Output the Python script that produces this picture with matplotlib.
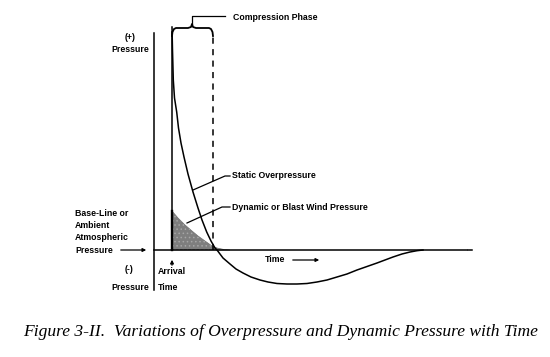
import numpy as np
import matplotlib
matplotlib.use('Agg')
import matplotlib.pyplot as plt

# schematic units: t = time after arrival, p = pressure above ambient
static_t = [0, 0.5, 1.3, 2.5, 4.7, 6.5, 9, 12, 16, 21, 26, 30, 34.7, 39, 43, 45,
            51, 58, 64, 71, 79, 88, 96, 105, 115, 125, 135, 145, 155, 165, 175,
            185, 195, 205, 213, 221, 230, 238, 245, 251]
static_p = [223, 200, 170, 152, 138, 122, 107, 93, 76, 58, 42, 30, 18, 9, 2, 0,
            -8, -14, -19, -23, -27, -30, -32, -33.5, -34, -34, -33.5, -32, -30, -27,
            -24, -20, -16.5, -13, -10, -7, -4, -2, -0.7, 0]

dyn_t = [0, 0, 6, 13, 20, 26, 33, 40, 45, 51, 58]
dyn_p = [0, 39, 32, 25, 19, 14, 9, 4, 2, 0.7, 0]

pos_phase_end = 41   # end of compression phase (dashed line)

plt.rcParams['font.family'] = ['Liberation Sans', 'DejaVu Sans']
plt.rcParams['hatch.linewidth'] = 0.6
fig = plt.figure(figsize=(5.5, 3.57), dpi=100)
ax = fig.add_axes([0, 0, 1, 1])
ax.set_xlim(-172, 378)
ax.set_ylim(-107, 250)
ax.axis('off')

lw = 1.1
fs = 6.3
# axes of the sketch
ax.plot([-18, -18], [-40, 217], color='black', lw=lw)
ax.plot([-18, 295], [0, 0], color='black', lw=lw)
ax.plot([296, 300], [0, 0], color='black', lw=lw)
ax.plot([0, 0], [0, 218], color='black', lw=lw)
ax.plot([pos_phase_end, pos_phase_end], [0, 216], color='black', lw=lw,
        dashes=(4, 3.5))

# dynamic pressure (shaded)
ax.fill(dyn_t, dyn_p, facecolor='#7e7e7e', edgecolor='#6e6e6e', lw=0.5)
ax.fill(dyn_t, dyn_p, facecolor='none', edgecolor='#a6a6a6', lw=0, hatch='....')
ax.plot([0, 0], [0, 39], color='black', lw=1.7)

# static overpressure
ax.plot(static_t, static_p, color='black', lw=lw, solid_joinstyle='round')

# brace over compression phase
bx = [0, 0.5, 2, 4, 16, 19, 20, 21, 24, 37, 39, 40.5, 41]
by = [214, 218, 221, 222, 222, 223, 226, 223, 222, 222, 221, 218, 214]
ax.plot(bx, by, color='black', lw=1.3)
ax.plot([20, 20, 53], [226, 234, 234], color='black', lw=0.9)
ax.text(61, 233, 'Compression Phase', fontsize=fs, fontweight='bold', va='center')

# leaders
ax.plot([58, 53, 21], [74, 74, 60], color='black', lw=0.9)
ax.text(60, 74, 'Static Overpressure', fontsize=fs, fontweight='bold', va='center')
ax.plot([58, 50, 15], [43, 43, 27], color='black', lw=0.9)
ax.text(60, 43, 'Dynamic or Blast Wind Pressure', fontsize=fs, fontweight='bold', va='center')

# left labels
ax.text(-42, 212, '(+)', fontsize=fs, fontweight='bold', ha='center', va='center')
ax.text(-42, 200, 'Pressure', fontsize=fs, fontweight='bold', ha='center', va='center')
for i, s in enumerate(['Base-Line or', 'Ambient', 'Atmospheric', 'Pressure']):
    ax.text(-97, 37 - i * 12.4, s, fontsize=fs, fontweight='bold', va='center')
ax.annotate('', xy=(-23, 0), xytext=(-54, 0),
            arrowprops=dict(arrowstyle='-|>', color='black', lw=0.9,
                            mutation_scale=5))
ax.text(-43, -20, '(-)', fontsize=fs, fontweight='bold', ha='center', va='center')
ax.text(-23, -37, 'Pressure', fontsize=fs, fontweight='bold', ha='right', va='center')
ax.annotate('', xy=(0, -7), xytext=(0, -18),
            arrowprops=dict(arrowstyle='-|>', color='black', lw=0.9,
                            mutation_scale=5))
ax.text(-14, -21, 'Arrival', fontsize=fs, fontweight='bold', va='center')
ax.text(-14, -37, 'Time', fontsize=fs, fontweight='bold', va='center')

ax.text(93, -10, 'Time', fontsize=fs, fontweight='bold', va='center')
ax.annotate('', xy=(150, -10), xytext=(118, -10),
            arrowprops=dict(arrowstyle='-|>', color='black', lw=0.9,
                            mutation_scale=5))

# caption
ax.text(109, -82, 'Figure 3-II.  Variations of Overpressure and Dynamic Pressure with Time',
        fontsize=12.6, family='Liberation Serif', style='italic', ha='center', va='center')

plt.savefig('out.png', dpi=100)
